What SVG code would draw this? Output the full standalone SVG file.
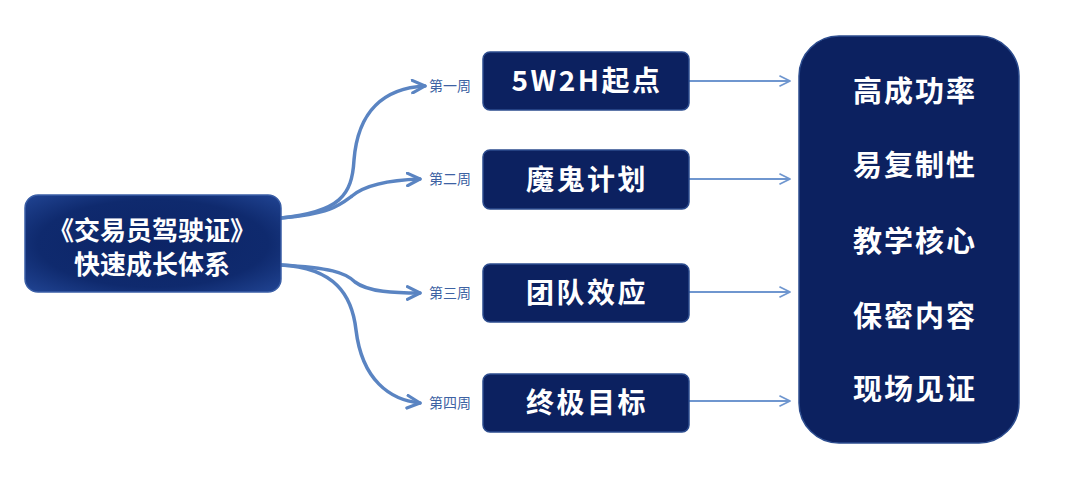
<svg xmlns="http://www.w3.org/2000/svg" width="1080" height="502" viewBox="0 0 1080 502">
<defs>
<style>
.box{fill:#0c2160;stroke:#2c4c8e;stroke-width:1.5}
.t{font-family:"Noto Sans CJK SC","Noto Sans",sans-serif;font-weight:bold;fill:#ffffff;text-anchor:middle}
.mid{font-size:28px;letter-spacing:2.5px}
.rt{font-size:29px;letter-spacing:2px}
.wk{font-family:"Noto Sans CJK SC",serif;font-size:14px;fill:#3d62a3;}
.curve{fill:none;stroke:#5a84c2;stroke-width:3.5;stroke-linecap:round}
.line{fill:none;stroke:#6f96cf;stroke-width:2.2}
</style>
<radialGradient id="lg" cx="0.5" cy="0.5" r="0.75">
<stop offset="0" stop-color="#0c2466"/>
<stop offset="0.6" stop-color="#0f2a6e"/>
<stop offset="1" stop-color="#24499a"/>
</radialGradient>
<marker id="chev" viewBox="0 0 10 10" refX="9" refY="5" markerWidth="4.5" markerHeight="4.5" orient="auto" markerUnits="strokeWidth">
<path d="M1,1 L9,5 L1,9" fill="none" stroke="#5a84c2" stroke-width="2" stroke-linecap="round" stroke-linejoin="round"/>
</marker>
<marker id="chev2" viewBox="0 0 10 10" refX="9" refY="5" markerWidth="6" markerHeight="6" orient="auto" markerUnits="strokeWidth">
<path d="M1,1 L9,5 L1,9" fill="none" stroke="#6f96cf" stroke-width="1.3" stroke-linejoin="round"/>
</marker>
</defs>
<rect width="1080" height="502" fill="#ffffff"/>
<g id="connectors">
<path class="curve" marker-end="url(#chev)" d="M281,218 C340,212 352,195 354,160 C358,110 385,88 425,86"/>
<path class="curve" marker-end="url(#chev)" d="M281,218 C330,214 340,205 352,196 C365,185 390,180 420,179"/>
<path class="curve" marker-end="url(#chev)" d="M281,265 C330,268 345,272 355,282 C368,292 395,293 420,293"/>
<path class="curve" marker-end="url(#chev)" d="M281,265 C335,268 352,295 356,330 C362,380 390,400 420,403"/>
<path class="line" marker-end="url(#chev2)" d="M689,81 L790,81"/>
<path class="line" marker-end="url(#chev2)" d="M689,179 L790,179"/>
<path class="line" marker-end="url(#chev2)" d="M689,292 L790,292"/>
<path class="line" marker-end="url(#chev2)" d="M689,401 L790,401"/>
</g>
<g id="source">
<rect x="25" y="195" width="256" height="97" rx="13" fill="url(#lg)" stroke="#3a5ea6" stroke-width="1.5"/>
<text class="t" x="152" y="240" font-size="26">《交易员驾驶证》</text>
<text class="t" x="152" y="274" font-size="26">快速成长体系</text>
</g>
<g id="week1">
<text class="wk" x="429" y="91">第一周</text>
<rect class="box" x="483" y="52" width="206" height="58" rx="7"/>
<text class="t mid" x="587" y="91">5W2H起点</text>
</g>
<g id="week2">
<text class="wk" x="429" y="184">第二周</text>
<rect class="box" x="483" y="150" width="206" height="59" rx="7"/>
<text class="t mid" x="587" y="190">魔鬼计划</text>
</g>
<g id="week3">
<text class="wk" x="429" y="298">第三周</text>
<rect class="box" x="483" y="264" width="206" height="58" rx="7"/>
<text class="t mid" x="587" y="303">团队效应</text>
</g>
<g id="week4">
<text class="wk" x="429" y="408">第四周</text>
<rect class="box" x="483" y="374" width="206" height="58" rx="7"/>
<text class="t mid" x="587" y="413">终极目标</text>
</g>
<g id="outcomes">
<rect class="box" x="799" y="36" width="220" height="407" rx="40"/>
<text class="t rt" x="915" y="102">高成功率</text>
<text class="t rt" x="915" y="176">易复制性</text>
<text class="t rt" x="915" y="252">教学核心</text>
<text class="t rt" x="915" y="327">保密内容</text>
<text class="t rt" x="915" y="400">现场见证</text>
</g>
</svg>
